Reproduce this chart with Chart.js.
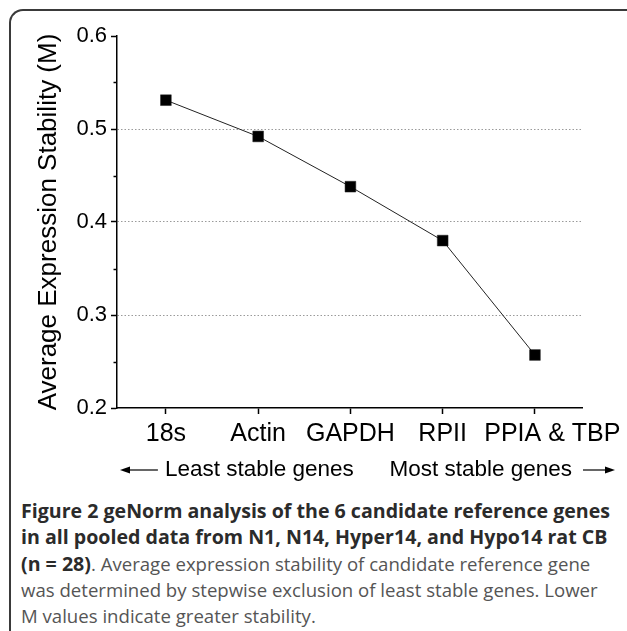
<!DOCTYPE html>
<html>
<head>
<meta charset="utf-8">
<script src="https://cdn.jsdelivr.net/npm/chart.js@4.4.1/dist/chart.umd.min.js"></script>
<style>
  html, body { margin: 0; padding: 0; background: #fff; }
  body { width: 627px; height: 631px; position: relative; overflow: hidden; }
  #frame {
    position: absolute; left: 9px; top: 9px; width: 640px; height: 640px;
    border-top: 2px solid #3a3a3a; border-left: 2px solid #3a3a3a;
    border-top-left-radius: 14px; box-sizing: border-box;
  }
  #chart { position: absolute; left: 0; top: 0; }
  #caption {
    position: absolute; left: 21px; top: 498px; width: 606px;
    font-family: "Open Sans", sans-serif; font-size: 18.6px; line-height: 26.25px;
    color: #555; white-space: nowrap;
  }
  #caption b { color: #2b2b2b; font-weight: 700; font-size: 19.6px; }
</style>
</head>
<body>
<div id="frame"></div>
<canvas id="chart" width="627" height="495"></canvas>
<div id="caption">
  <b>Figure 2 geNorm analysis of the 6 candidate reference genes<br>
  in all pooled data from N1, N14, Hyper14, and Hypo14 rat CB<br>
  (n = 28)</b>. Average expression stability of candidate reference gene<br>
  was determined by stepwise exclusion of least stable genes. Lower<br>
  M values indicate greater stability.
</div>
<script>
// Data
const genes = ['18s', 'Actin', 'GAPDH', 'RPII', 'PPIA & TBP'];
const stability = [0.531, 0.492, 0.438, 0.380, 0.257];
const yTicks = [0.2, 0.3, 0.4, 0.5, 0.6];
const yMinorTicks = [0.25, 0.35, 0.45, 0.55];
const gridValues = [0.3, 0.4, 0.5];

const FONT = '"Liberation Sans", Arial, sans-serif';

// last label sits a little right of its tick in the original
const tickLabel = i => (i === genes.length - 1 ? '\u00A0'.repeat(5) : '') + genes[i];

// Minor y ticks and the two "stable genes" arrows under the axis
const extras = {
  id: 'extras',
  afterDraw(chart) {
    const ctx = chart.ctx;
    const area = chart.chartArea;
    const x = chart.scales.x;
    const y = chart.scales.y;

    ctx.save();
    ctx.strokeStyle = '#000';
    ctx.lineWidth = 1.5;
    yMinorTicks.forEach(v => {
      const py = Math.round(y.getPixelForValue(v)) + 0.5;
      ctx.beginPath();
      ctx.moveTo(area.left, py);
      ctx.lineTo(area.left - 3.5, py);
      ctx.stroke();
    });

    const cy = area.bottom + 62;
    ctx.font = '22.5px ' + FONT;
    ctx.fillStyle = '#000';
    ctx.textBaseline = 'middle';

    const leftText = x.getPixelForValue(0) - 1;
    ctx.textAlign = 'left';
    ctx.fillText('Least stable genes', leftText, cy);
    drawArrow(ctx, leftText - 7, area.left + 3, cy);

    const rightText = area.right - 10;
    ctx.textAlign = 'right';
    ctx.fillText('Most stable genes', rightText, cy);
    drawArrow(ctx, area.right + 1, area.right + 33, cy);
    ctx.restore();
  }
};

function drawArrow(ctx, from, to, cy) {
  const dir = Math.sign(to - from);
  ctx.lineWidth = 1.2;
  ctx.beginPath();
  ctx.moveTo(from, cy);
  ctx.lineTo(to - dir * 6, cy);
  ctx.stroke();
  ctx.beginPath();
  ctx.moveTo(to, cy);
  ctx.lineTo(to - dir * 10, cy - 3.5);
  ctx.lineTo(to - dir * 10, cy + 3.5);
  ctx.closePath();
  ctx.fill();
}

new Chart(document.getElementById('chart'), {
  type: 'line',
  data: {
    datasets: [{
      data: stability.map((v, i) => ({ x: i, y: v })),
      borderColor: '#222',
      borderWidth: 1,
      pointStyle: 'rect',
      pointRadius: 7.6,
      pointBackgroundColor: '#000',
      pointBorderColor: '#222',
      pointBorderWidth: 0.5,
      tension: 0
    }]
  },
  options: {
    responsive: false,
    animation: false,
    layout: { padding: { left: 0, top: 36, right: 45, bottom: 0 } },
    plugins: { legend: { display: false }, tooltip: { enabled: false } },
    scales: {
      x: {
        type: 'linear',
        min: -0.53,
        max: 4.51,
        afterFit: s => { s.height = 87; s.paddingLeft = 0; s.paddingRight = 0; },
        afterBuildTicks: s => { s.ticks = genes.map((g, i) => ({ value: i })); },
        grid: { drawOnChartArea: false, tickLength: 6, tickColor: '#000', tickWidth: 1.5 },
        border: { color: '#000', width: 1.5 },
        ticks: {
          callback: v => tickLabel(v),
          autoSkip: false,
          color: '#000',
          padding: 5,
          maxRotation: 0,
          font: { family: FONT, size: 25 }
        }
      },
      y: {
        min: 0.2,
        max: 0.6,
        afterFit: s => { s.width = 117; },
        afterBuildTicks: s => { s.ticks = yTicks.map(v => ({ value: v })); },
        grid: {
          color: c => gridValues.some(g => Math.abs(g - c.tick.value) < 1e-6) ? '#9a9a9a' : 'rgba(0,0,0,0)',
          lineWidth: 1,
          tickLength: 6,
          tickColor: '#000',
          tickWidth: 1.5
        },
        border: { color: '#000', width: 1.5, dash: [1.5, 2] },
        ticks: {
          callback: v => v.toFixed(1),
          color: '#000',
          padding: 4,
          font: { family: FONT, size: 22 }
        },
        title: {
          display: true,
          text: 'Average Expression Stability (M)',
          color: '#000',
          padding: { top: 33, bottom: 0 },
          font: { family: FONT, size: 26 }
        }
      }
    }
  },
  plugins: [extras]
});
</script>
</body>
</html>
